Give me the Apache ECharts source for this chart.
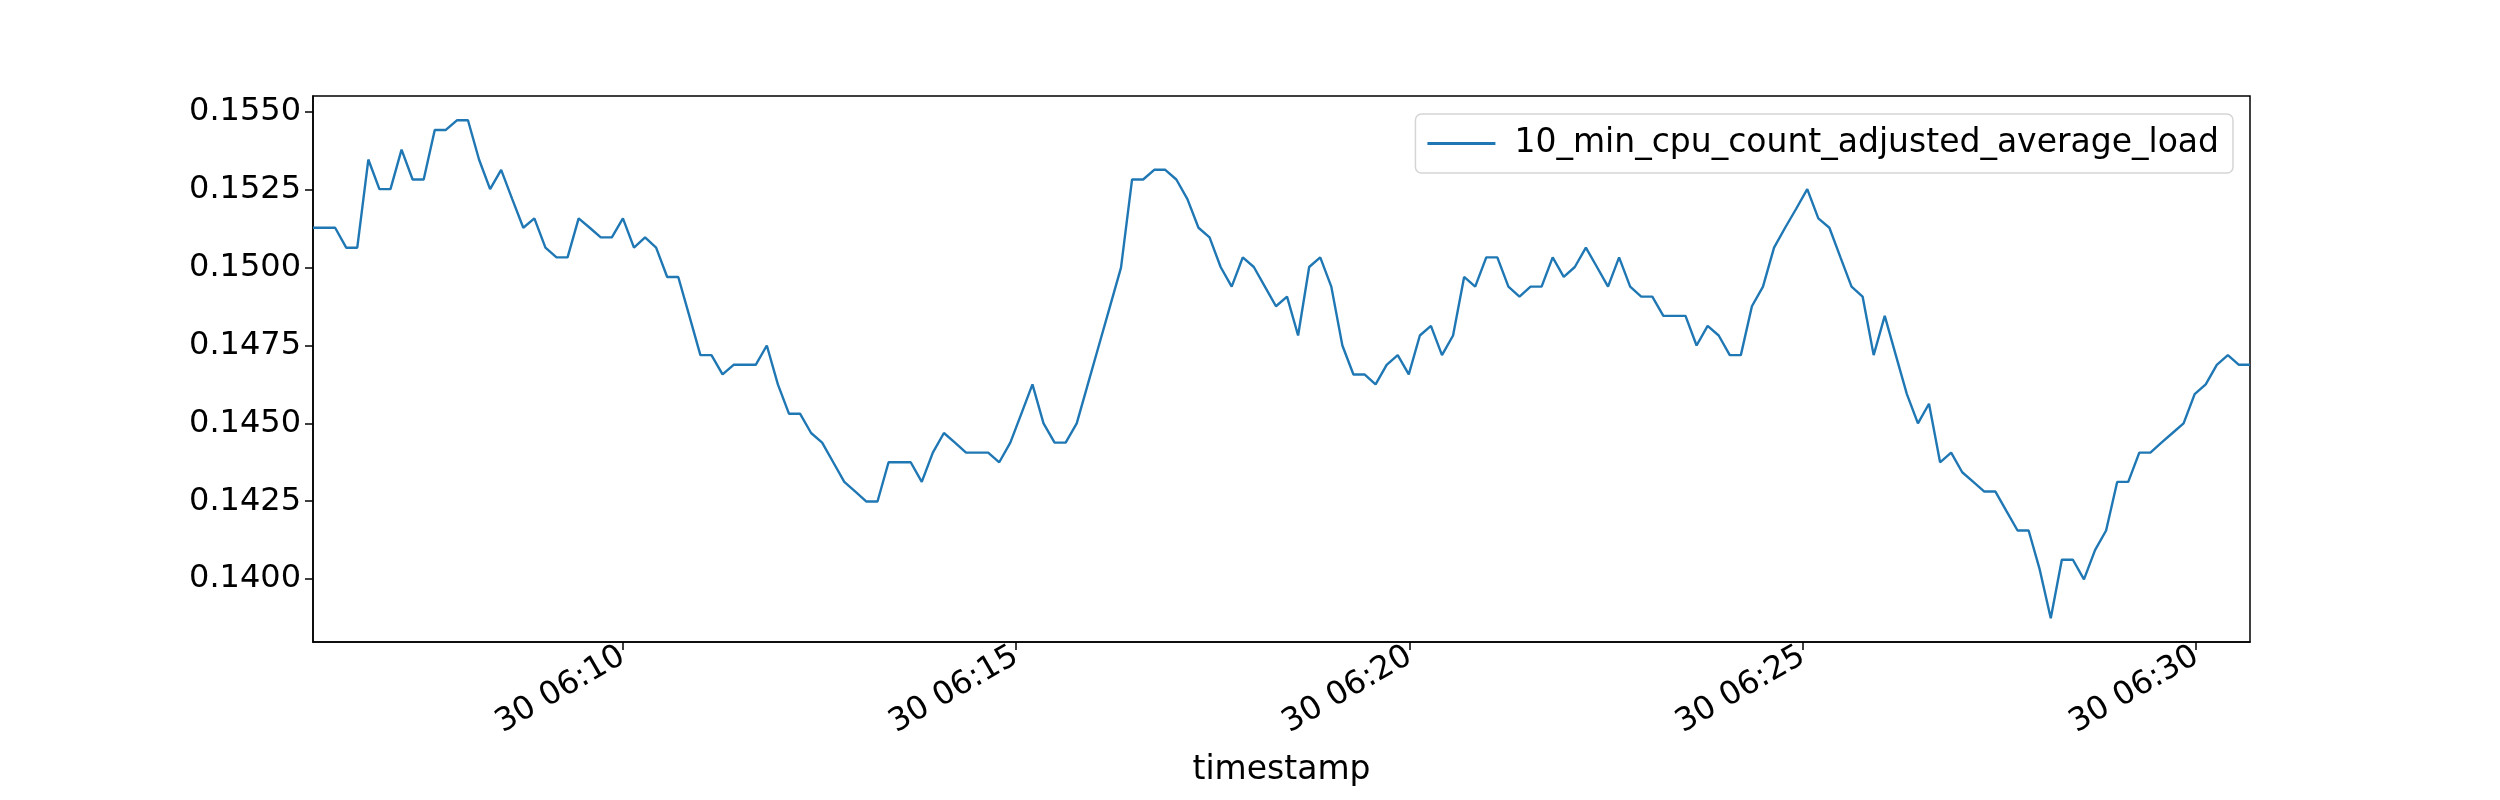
<!DOCTYPE html>
<html><head><meta charset="utf-8">
<script src="https://cdn.jsdelivr.net/npm/echarts@6/dist/echarts.min.js"></script>
<style>html,body{margin:0;padding:0;background:#fff}#c{width:2500px;height:800px}</style>
</head><body><div id="c"></div>
<script>
const seriesName = "10_min_cpu_count_adjusted_average_load";
const startTime = "2020-04-30T06:06:04Z";
const stepSeconds = 8.44;
const loadValues = [
0.15128,0.15128,0.15128,0.15064,0.15064,0.15347,0.15252,0.15252,0.15379,0.15283,
0.15283,0.15442,0.15442,0.15473,0.15473,0.15347,0.15252,0.15314,0.15220,0.15128,
0.15158,0.15064,0.15033,0.15033,0.15158,0.15128,0.15097,0.15097,0.15158,0.15064,
0.15097,0.15064,0.14970,0.14970,0.14845,0.14719,0.14719,0.14657,0.14688,0.14688,
0.14688,0.14750,0.14625,0.14531,0.14531,0.14469,0.14438,0.14375,0.14312,0.14281,
0.14249,0.14249,0.14375,0.14375,0.14375,0.14312,0.14406,0.14469,0.14438,0.14406,
0.14406,0.14406,0.14375,0.14438,0.14531,0.14625,0.14500,0.14438,0.14438,0.14500,
0.14625,0.14750,0.14875,0.15000,0.15283,0.15283,0.15314,0.15314,0.15283,0.15220,
0.15128,0.15097,0.15002,0.14939,0.15033,0.15002,0.14939,0.14876,0.14907,0.14782,
0.15002,0.15033,0.14939,0.14750,0.14657,0.14657,0.14625,0.14688,0.14719,0.14657,
0.14782,0.14813,0.14719,0.14782,0.14970,0.14939,0.15033,0.15033,0.14939,0.14907,
0.14939,0.14939,0.15033,0.14970,0.15002,0.15064,0.15002,0.14939,0.15033,0.14939,
0.14907,0.14907,0.14845,0.14845,0.14845,0.14750,0.14813,0.14782,0.14719,0.14719,
0.14876,0.14939,0.15064,0.15128,0.15189,0.15252,0.15158,0.15128,0.15033,0.14939,
0.14907,0.14719,0.14845,0.14719,0.14594,0.14500,0.14563,0.14375,0.14406,0.14343,
0.14312,0.14281,0.14281,0.14218,0.14156,0.14156,0.14031,0.13874,0.14062,0.14062,
0.13999,0.14093,0.14156,0.14312,0.14312,0.14406,0.14406,0.14438,0.14469,0.14500,
0.14594,0.14625,0.14688,0.14719,0.14688,0.14688
];
const yTicks = [0.1400,0.1425,0.1450,0.1475,0.1500,0.1525,0.1550];
const xTickTimes = ["2020-04-30T06:10:00Z","2020-04-30T06:15:00Z","2020-04-30T06:20:00Z","2020-04-30T06:25:00Z","2020-04-30T06:30:00Z"];

const t0 = Date.parse(startTime);
const data = loadValues.map((v,i)=>[t0 + Math.round(i*stepSeconds*1000), v]);
const xTicks = xTickTimes.map(s=>Date.parse(s));
const font = "DejaVu Sans";
const pad = n=>String(n).padStart(2,'0');
const chart = echarts.init(document.getElementById('c'));
chart.setOption({
  animation: false,
  backgroundColor: '#fff',
  grid: {left:313, right:250, top:96, bottom:158, show:true, borderColor:'#000', borderWidth:1.5, backgroundColor:'transparent'},
  legend: {
    show:true, right:267, top:114, padding:[13,14,13,12],
    itemWidth:68, itemHeight:3, itemGap:10,
    icon:'rect',
    backgroundColor:'rgba(255,255,255,0.8)', borderColor:'#d5d5d5', borderWidth:1.5, borderRadius:6,
    textStyle:{fontFamily:font, fontSize:33, color:'#000', padding:[0,0,0,14]},
    data:[seriesName]
  },
  xAxis: {
    type:'value', min:data[0][0], max:data[data.length-1][0],
    name:'timestamp', nameLocation:'middle', nameGap:112,
    nameTextStyle:{fontFamily:font, fontSize:33, color:'#000'},
    axisLine:{show:true, lineStyle:{color:'#000', width:1.5}},
    axisTick:{show:true, length:8, lineStyle:{color:'#000', width:1.5}, customValues:xTicks},
    axisLabel:{show:true, rotate:30, fontFamily:font, fontSize:32, color:'#000', margin:12, customValues:xTicks,
      formatter:v=>{const d=new Date(v);return d.getUTCDate()+' '+pad(d.getUTCHours())+':'+pad(d.getUTCMinutes());}},
    splitLine:{show:false}
  },
  yAxis: {
    type:'value', min:0.13798, max:0.15551,
    axisLine:{show:true, lineStyle:{color:'#000', width:1.5}},
    axisTick:{show:true, length:8, lineStyle:{color:'#000', width:1.5}, customValues:yTicks},
    axisLabel:{show:true, fontFamily:font, fontSize:32, color:'#000', margin:12, customValues:yTicks, formatter:v=>v.toFixed(4)},
    splitLine:{show:false}
  },
  series: [{
    name:seriesName, type:'line', data:data, symbol:'none', showSymbol:false,
    lineStyle:{color:'#1f77b4', width:2.4}, itemStyle:{color:'#1f77b4'}
  }]
});
</script></body></html>
